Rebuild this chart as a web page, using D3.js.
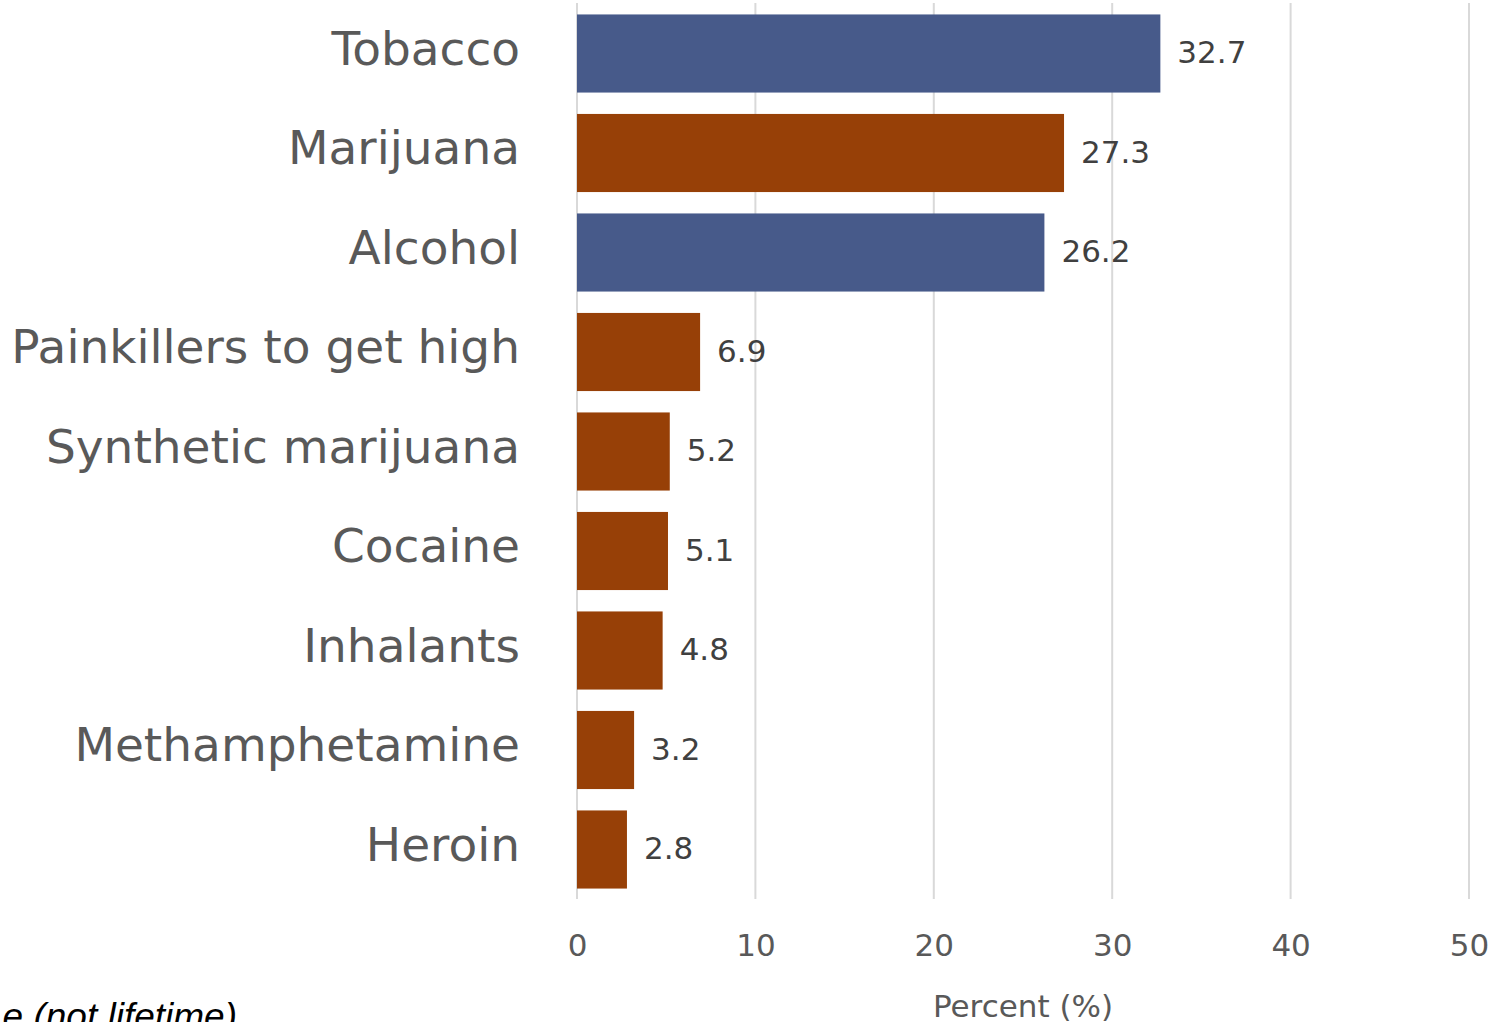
<!DOCTYPE html>
<html>
<head>
<meta charset="utf-8">
<script src="https://cdn.jsdelivr.net/npm/d3@7"></script>
<style>
  body { margin: 0; background: #fff; }
  svg { display: block; }
</style>
</head>
<body>
<div id="chart"></div>
<script>
let width = 1509;
let height = 1022;

// data
let categories = ["Tobacco", "Marijuana", "Alcohol", "Painkillers to get high", "Synthetic marijuana",
	"Cocaine", "Inhalants", "Methamphetamine", "Heroin"];
let values = [32.7, 27.3, 26.2, 6.9, 5.2, 5.1, 4.8, 3.2, 2.8];
let groups = ["legal", "illegal", "legal", "illegal", "illegal", "illegal", "illegal", "illegal", "illegal"];
let xTicks = [0, 10, 20, 30, 40, 50];
let axisTitle = "Percent (%)";
let footnote = "e (not lifetime)";

let colorScale = { "legal": "#475a8a", "illegal": "#974007" };
let font = "'DejaVu Sans', Verdana, sans-serif";

let data = categories.map((c, i) => ({ name: c, value: values[i], group: groups[i] }));

let svg = d3.select("#chart")
	.append("svg")
	.attr("width", width).attr("height", height);

let x = d3.scaleLinear().domain([0, 50]).range([577, 1469]);
let y = d3.scaleBand().domain(categories).range([3.5, 899.5]).paddingInner(0.215).paddingOuter(0.11);

// gridlines
svg.append("g").selectAll("line").data(xTicks)
	.join("line")
	.attr("x1", d => x(d)).attr("x2", d => x(d))
	.attr("y1", 3).attr("y2", 899)
	.attr("stroke", "#d9d9d9").attr("stroke-width", 2);

// bars
svg.append("g").selectAll("rect").data(data)
	.join("rect")
	.attr("x", x(0))
	.attr("y", d => y(d.name))
	.attr("width", d => x(d.value) - x(0))
	.attr("height", y.bandwidth())
	.attr("fill", d => colorScale[d.group]);

// value labels
svg.append("g").selectAll("text").data(data)
	.join("text")
	.attr("x", d => x(d.value) + 17)
	.attr("y", d => y(d.name) + y.bandwidth() / 2)
	.attr("dy", "0.32em")
	.attr("font-family", font).attr("font-size", 31)
	.attr("fill", "#404040")
	.text(d => d.value.toFixed(1));

// category labels
svg.append("g").selectAll("text").data(data)
	.join("text")
	.attr("x", 520)
	.attr("y", d => y(d.name) + y.bandwidth() / 2)
	.attr("dy", "0.24em")
	.attr("text-anchor", "end")
	.attr("font-family", font).attr("font-size", 47)
	.attr("fill", "#595959")
	.text(d => d.name);

// x axis
let xAxis = svg.append("g")
	.attr("transform", "translate(0,900)")
	.call(d3.axisBottom(x).tickValues(xTicks).tickSize(0).tickPadding(34));
xAxis.select(".domain").remove();
xAxis.selectAll("text")
	.attr("font-family", font).attr("font-size", 31)
	.attr("fill", "#595959");

svg.append("text")
	.attr("x", (x(0) + x(50)) / 2)
	.attr("y", 1017)
	.attr("text-anchor", "middle")
	.attr("font-family", font).attr("font-size", 31)
	.attr("fill", "#595959")
	.text(axisTitle);

// footnote, cut off at the bottom-left edge as in the source
svg.append("text")
	.attr("x", 237)
	.attr("y", 1029)
	.attr("text-anchor", "end")
	.attr("font-family", "'Liberation Sans', Arial, sans-serif")
	.attr("font-style", "italic")
	.attr("font-size", 37)
	.attr("fill", "#000")
	.text(footnote);
</script>
</body>
</html>
